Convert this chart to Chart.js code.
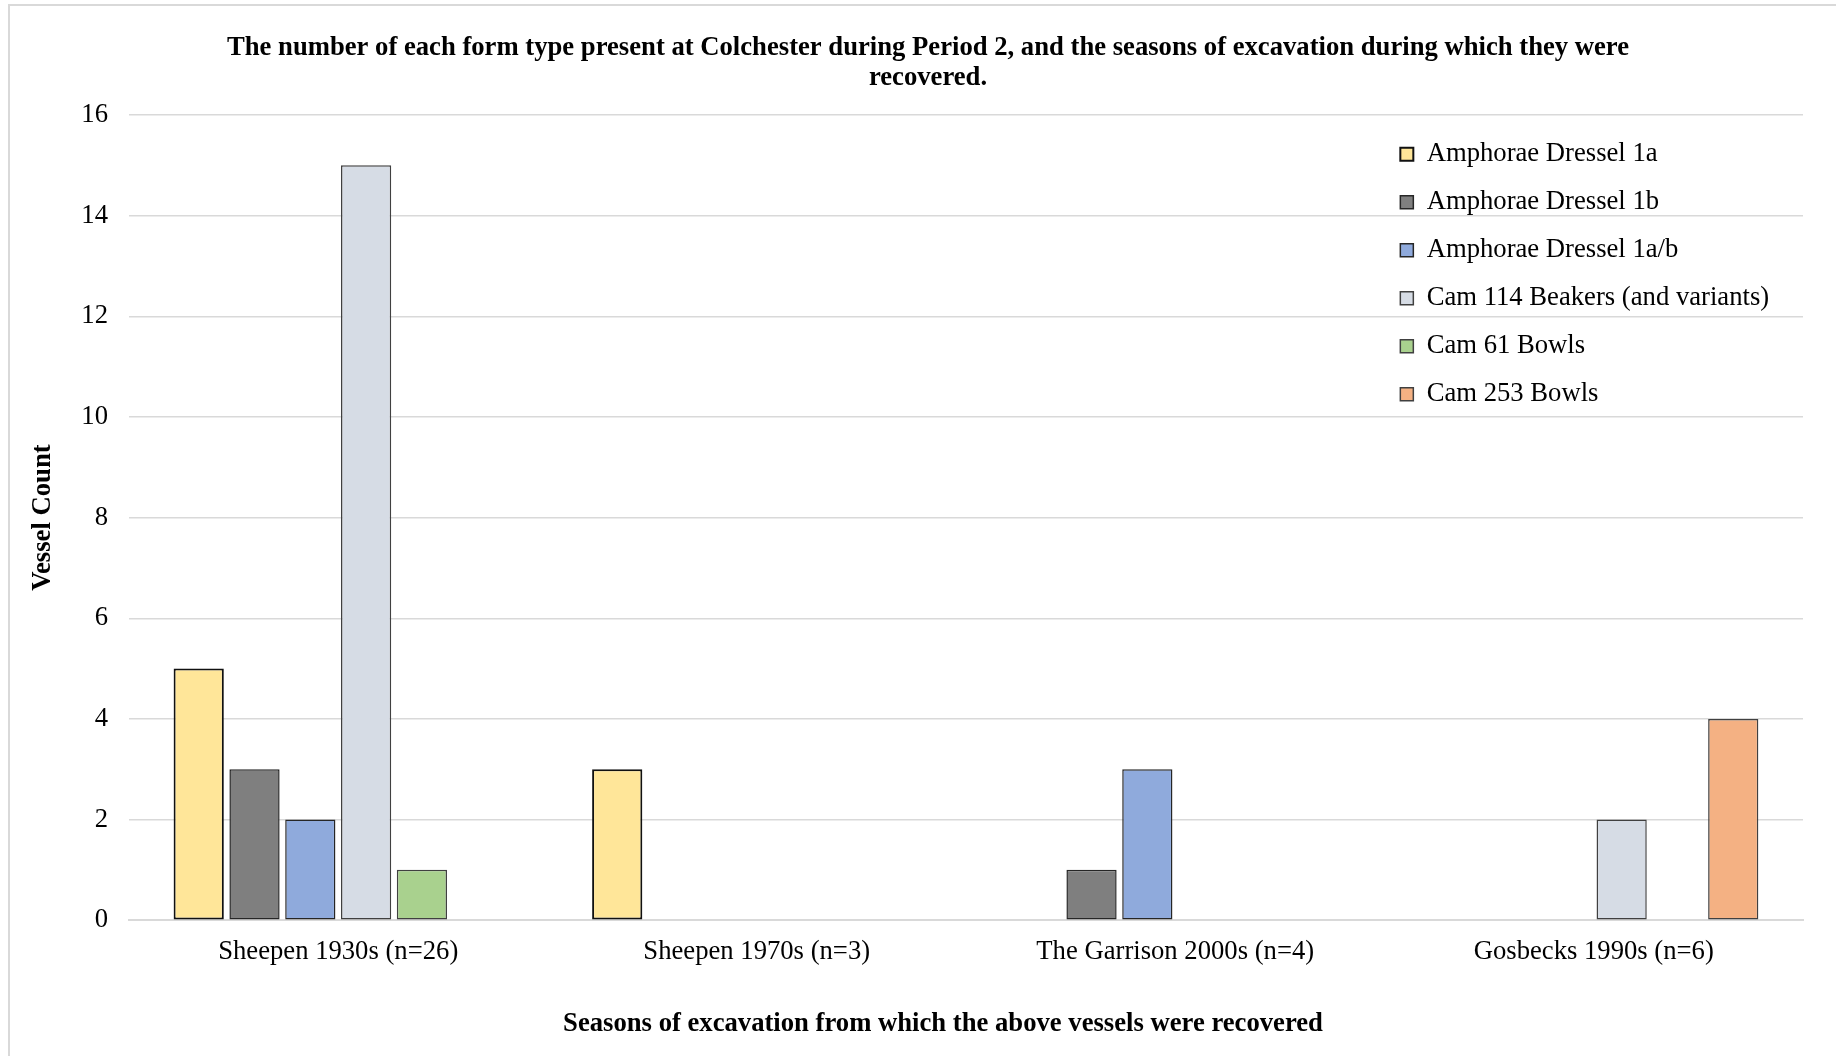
<!DOCTYPE html>
<html>
<head>
<meta charset="utf-8">
<script src="https://cdn.jsdelivr.net/npm/chart.js@4.4.1/dist/chart.umd.min.js"></script>
<style>
  html, body { margin: 0; padding: 0; background: #fff; overflow: hidden; }
  #frame {
    position: absolute; left: 8px; top: 4px;
    border-left: 2px solid #d9d9d9; border-top: 2px solid #d9d9d9;
  }
  canvas { display: block; }
</style>
</head>
<body>
<div id="frame"><canvas id="myChart" width="1836" height="1050"></canvas></div>
<script>
// excavation seasons along the x axis
var seasons = ["Sheepen 1930s (n=26)", "Sheepen 1970s (n=3)", "The Garrison 2000s (n=4)", "Gosbecks 1990s (n=6)"];

// vessel counts per form type, one value per season
var dressel1a   = [5, 3, 0, 0];
var dressel1b   = [3, 0, 1, 0];
var dressel1ab  = [2, 0, 3, 0];
var cam114      = [15, 0, 0, 2];
var cam61       = [1, 0, 0, 0];
var cam253      = [0, 0, 0, 4];

var yTicks = [0, 2, 4, 6, 8, 10, 12, 14, 16];

var serif = "'Liberation Serif', 'Times New Roman', serif";
var fontSize = 26.67;
Chart.defaults.color = "#000";
Chart.defaults.font.family = serif;

// legend goes inside the plot (top right), headline and axis caption
// are centred on the whole canvas rather than on the plot area
const boxPlacer = {
    id: "boxPlacer",
    afterLayout(chart) {
        const area = chart.chartArea;
        const lg = chart.legend;
        lg.left = area.right - 424;
        lg.right = lg.left + lg.width;
        lg.top = area.top + 4.5;
        lg.bottom = lg.top + lg.height;

        chart.titleBlock.left = 0;
        chart.titleBlock.right = chart.width;

        chart.boxes.forEach(b => {
            if (b.position === "bottom" && !b.axis) {
                b.left = 30;
                b.right = chart.width;
            }
        });
    }
};

function series(label, data, fill, edge, width) {
    return {
        label: label,
        data: data,
        backgroundColor: fill,
        borderColor: edge,
        borderWidth: width,
        borderSkipped: false
    };
}

new Chart("myChart", {
    type: "bar",
    data: {
        labels: seasons,
        datasets: [
            series("Amphorae Dressel 1a", dressel1a, "#FFE699", "#111111", 2),
            series("Amphorae Dressel 1b", dressel1b, "#7F7F7F", "#262626", 1.5),
            series("Amphorae Dressel 1a/b", dressel1ab, "#8FAADC", "#262626", 1.5),
            series("Cam 114 Beakers (and variants)", cam114, "#D6DCE5", "#404040", 1.5),
            series("Cam 61 Bowls", cam61, "#A9D18E", "#404040", 1.5),
            series("Cam 253 Bowls", cam253, "#F4B183", "#404040", 1.5)
        ]
    },
    options: {
        responsive: false,
        animation: false,
        layout: { padding: { left: 0, right: 43, top: 0, bottom: 0 } },
        plugins: {
            title: {
                display: true,
                text: ["The number of each form type present at Colchester during Period 2, and the seasons of excavation during which they were",
                       "recovered."],
                font: { size: fontSize, weight: "bold", lineHeight: 1.144 },
                padding: { top: 26.5, bottom: 21.5 }
            },
            subtitle: {
                display: true,
                position: "bottom",
                text: "Seasons of excavation from which the above vessels were recovered",
                color: "#000",
                font: { size: fontSize, weight: "bold" },
                padding: { top: 25, bottom: 16 }
            },
            legend: {
                position: "chartArea",
                align: "start",
                labels: {
                    font: { size: fontSize },
                    boxWidth: 13,
                    boxHeight: 13,
                    padding: 21.33
                }
            },
            tooltip: { enabled: false }
        },
        scales: {
            x: {
                grid: { display: false, drawTicks: false },
                border: { display: true, color: "#d9d9d9", width: 2 },
                ticks: { font: { size: fontSize }, padding: 15.4, maxRotation: 0 }
            },
            y: {
                min: yTicks[0],
                max: yTicks[yTicks.length - 1],
                afterBuildTicks(scale) {
                    scale.ticks = yTicks.map(v => ({ value: v }));
                },
                grid: { color: "#d9d9d9", lineWidth: 1.5, drawTicks: false },
                border: { display: false },
                ticks: { font: { size: fontSize }, padding: 21 },
                title: {
                    display: true,
                    text: "Vessel Count",
                    font: { size: fontSize, weight: "bold" },
                    padding: { top: 17.3, bottom: 1 }
                }
            }
        }
    },
    plugins: [boxPlacer]
});
</script>
</body>
</html>
